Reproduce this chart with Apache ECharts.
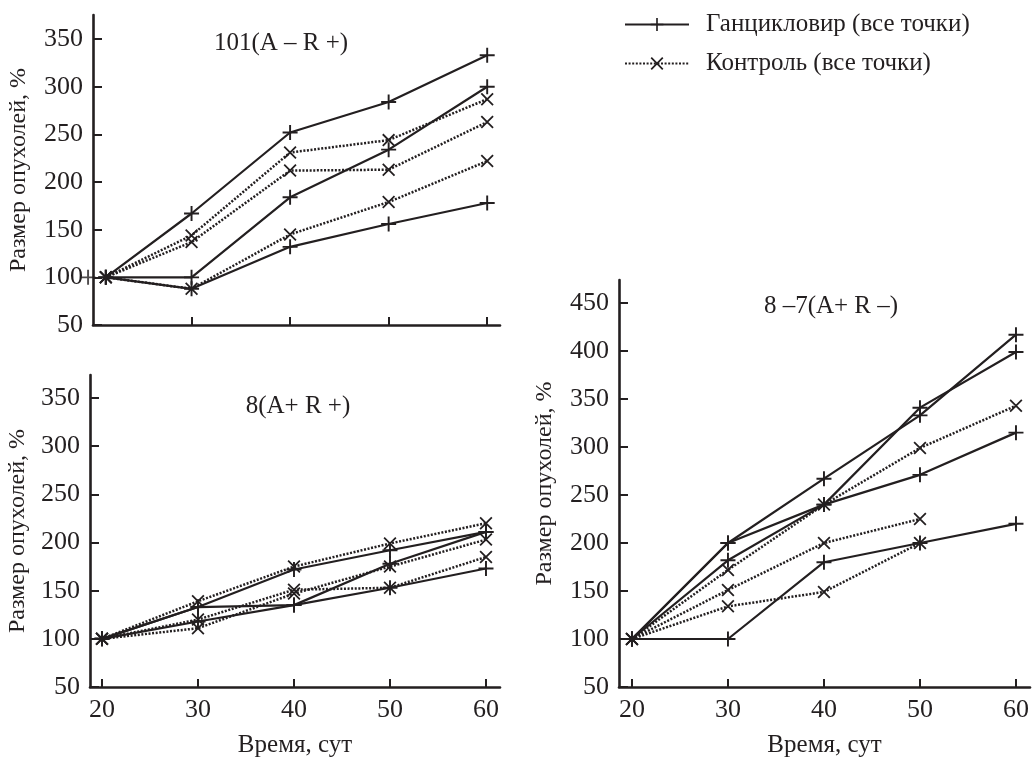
<!DOCTYPE html>
<html>
<head>
<meta charset="utf-8">
<script src="https://cdn.jsdelivr.net/npm/echarts@6/dist/echarts.min.js"></script>
<style>
  html, body { margin: 0; padding: 0; background: #fff; }
  #chart { width: 1032px; height: 758px; }
</style>
</head>
<body>
<div id="chart"></div>
<script>
var chart = echarts.init(document.getElementById('chart'));

var legendNames = ['Ганцикловир (все точки)', 'Контроль (все точки)'];
var yName = 'Размер опухолей, %';
var xName = 'Время, сут';
var days = [20, 30, 40, 50, 60];
var topDays = [21.3, 30, 40, 50, 60];   // first points of 101 are drawn a bit right of the axis
var yTicksLeft = [50, 100, 150, 200, 250, 300, 350];
var yTicksRight = [50, 100, 150, 200, 250, 300, 350, 400, 450];

// 101(A – R +)
var g101 = [
    [100, 167, 252, 284, 333],
    [100, 100, 184, 234, 300],
    [100, 88, 132, 156, 178]
];
var c101 = [
    [100, 144, 231, 244, 287],
    [100, 137, 212, 213, 263],
    [100, 88, 145, 179, 222]
];
// 8(A+ R +)
var g8 = [
    [100, 133, 172, 192, 211],
    [100, 133, 135, 178, 211],
    [100, 118, 135, 153, 173]
];
var c8 = [
    [100, 139, 175, 199, 220],
    [100, 120, 151, 153, 185],
    [100, 111, 147, 175, 203]
];
// 8 –7(A+ R –)
var g87 = [
    [100, 200, 267, 333, 417],
    [100, 200, 240, 271, 315],
    [100, 182, 240, 341, 399],
    [100, 100, 180, 200, 220]
];
var c87 = [
    [100, 172, 240, 299, 343],
    [100, 151, 200, 225, null],
    [100, 134, 149, 200, null]
];

var ink = '#231f20';
var font = 'Liberation Serif';
var plusPath = 'path://M-0.9,-7L0.9,-7L0.9,7L-0.9,7ZM-7,-0.9L7,-0.9L7,0.9L-7,0.9Z';
var crossPath = 'path://M-6.64,-5.36L-5.36,-6.64L6.64,5.36L5.36,6.64ZM5.36,-6.64L6.64,-5.36L-5.36,6.64L-6.64,5.36Z';

function xAx(idx, min, max, ticks, showLabels) {
    return {
        gridIndex: idx, type: 'value', min: min, max: max,
        splitLine: { show: false },
        axisLine: { lineStyle: { color: ink, width: 2.6 } },
        axisTick: { inside: true, length: 8, customValues: ticks, lineStyle: { color: ink, width: 2 } },
        axisLabel: { show: showLabels, customValues: ticks, color: ink, fontFamily: font, fontSize: 26, margin: 10 },
        name: showLabels ? xName : '', nameLocation: 'middle', nameGap: 46,
        nameTextStyle: { color: ink, fontFamily: font, fontSize: 25 }
    };
}
function yAx(idx, max, ticks, gap) {
    return {
        gridIndex: idx, type: 'value', min: 50, max: max,
        splitLine: { show: false },
        axisLine: { lineStyle: { color: ink, width: 2.6 } },
        axisTick: { inside: true, length: 9, customValues: ticks, lineStyle: { color: ink, width: 2 } },
        axisLabel: { customValues: ticks, color: ink, fontFamily: font, fontSize: 26, margin: 10 },
        name: yName, nameLocation: 'middle', nameGap: gap, nameRotate: 90,
        nameTextStyle: { color: ink, fontFamily: font, fontSize: 24 }
    };
}

function lines(sets, xs, grid, isControl) {
    return sets.map(function (vals) {
        var pts = [];
        vals.forEach(function (v, i) { if (v != null) pts.push([xs[i], v]); });
        return {
            name: isControl ? legendNames[1] : legendNames[0],
            type: 'line', xAxisIndex: grid, yAxisIndex: grid,
            data: pts,
            symbol: isControl ? crossPath : plusPath,
            symbolSize: isControl ? 13 : 15,
            showAllSymbol: true,
            itemStyle: { color: ink },
            lineStyle: isControl
                ? { color: ink, width: 2.5, type: [2, 1.6] }
                : { color: ink, width: 2.2 },
            silent: true, animation: false, z: isControl ? 2 : 3
        };
    });
}

var series = [].concat(
    lines(g101, topDays, 0, false), lines(c101, topDays, 0, true),
    lines(g8, days, 1, false), lines(c8, days, 1, true),
    lines(g87, days, 2, false), lines(c87, days, 2, true)
);
// stray marker sitting on the axis of the 101 panel
series.push({
    type: 'scatter', xAxisIndex: 0, yAxisIndex: 0, data: [[19.5, 100]],
    symbol: plusPath, symbolSize: 15, itemStyle: { color: ink }, clip: false, silent: true, z: 4
});

var titleFont = '25px "Liberation Serif"';

var option = {
    animation: false,
    backgroundColor: '#fff',
    textStyle: { fontFamily: font },
    legend: {
        data: legendNames,
        orient: 'vertical',
        left: 619, top: 7,
        itemWidth: 64, itemHeight: 16, itemGap: 14,
        textStyle: { color: ink, fontFamily: font, fontSize: 25, padding: [0, 0, 0, 12] },
        selectedMode: false
    },
    grid: [
        { left: 93, top: 15, width: 407, height: 310, containLabel: false, outerBoundsMode: 'none' },
        { left: 90, top: 375, width: 410, height: 312, containLabel: false, outerBoundsMode: 'none' },
        { left: 619, top: 280, width: 411, height: 407, containLabel: false, outerBoundsMode: 'none' }
    ],
    xAxis: [
        xAx(0, 20, 61.3, [30, 40, 50, 60], false),
        xAx(1, 18.75, 61.46, days, true),
        xAx(2, 18.65, 61.46, days, true)
    ],
    yAxis: [
        yAx(0, 375.3, yTicksLeft, 62),
        yAx(1, 373.9, yTicksLeft, 60),
        yAx(2, 474, yTicksRight, 62)
    ],
    graphic: [
        { type: 'text', x: 281, y: 43, style: { text: '101(A – R +)', fill: ink, font: titleFont, align: 'center', verticalAlign: 'middle' } },
        { type: 'text', x: 298, y: 406, style: { text: '8(A+ R +)', fill: ink, font: titleFont, align: 'center', verticalAlign: 'middle' } },
        { type: 'text', x: 831, y: 306, style: { text: '8 –7(A+ R –)', fill: ink, font: titleFont, align: 'center', verticalAlign: 'middle' } }
    ],
    series: series
};

chart.setOption(option);
</script>
</body>
</html>
